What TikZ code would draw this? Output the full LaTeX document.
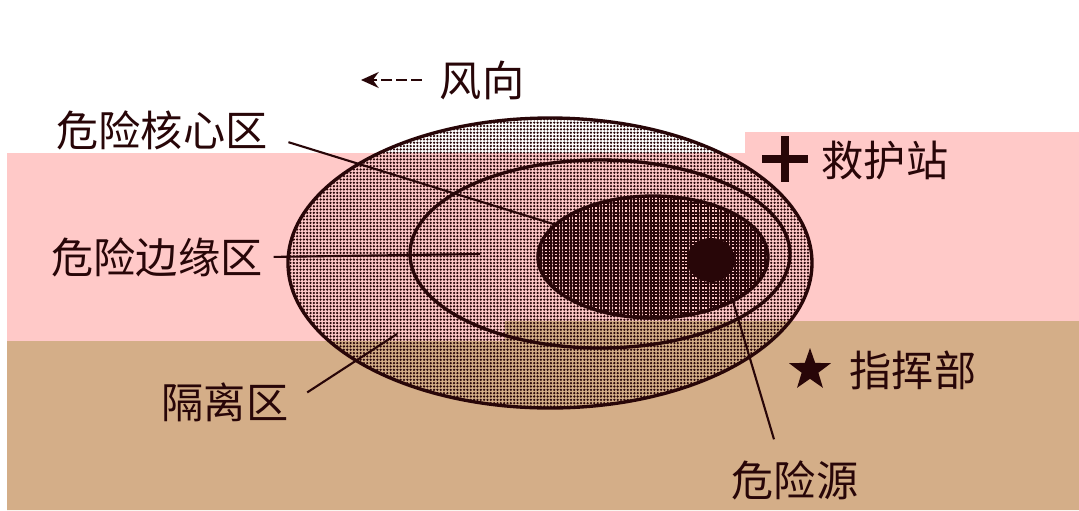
\documentclass[tikz,border=0pt]{standalone}
\usepackage{fontspec}
\newfontfamily\cjk{Noto Sans CJK SC}
\usetikzlibrary{patterns.meta,shapes.geometric,shapes.misc,arrows.meta}
\definecolor{ink}{RGB}{40,6,8}
\definecolor{bandpink}{RGB}{255,201,200}
\definecolor{bandtan}{RGB}{212,174,136}

\begin{document}
\begin{tikzpicture}[
    lbl/.style={font=\cjk\fontsize{12}{14}\selectfont,text=ink,inner sep=1pt},
    leader/.style={ink,line width=0.6pt},
    zone/.style={draw=ink,line width=0.95pt},
    dotsfill/.style={pattern={Dots[distance=0.95pt,radius=0.36pt]},pattern color=ink},
    corefill/.style={pattern={Hatch[distance=0.95pt,line width=0.55pt]},pattern color=ink}
  ]
        \useasboundingbox (0,0) rectangle (10.79,5.10);
        \fill[white] (0,0) rectangle (10.79,5.10);
        \fill[bandpink] (0.07,1.69) -- (0.07,3.57) -- (7.45,3.57) -- (7.45,3.78) -- (10.79,3.78) -- (10.79,1.89) -- (5.05,1.89) -- (5.05,1.69) -- cycle;
        \fill[bandtan] (0.07,0) -- (0.07,1.69) -- (5.05,1.69) -- (5.05,1.89) -- (10.79,1.89) -- (10.79,0) -- cycle;
        % zones
        \fill[dotsfill,even odd rule] (5.50,2.47) ellipse (2.62 and 1.45) (6.53,2.53) ellipse (1.15 and 0.61);
        \fill[corefill] (6.53,2.53) ellipse (1.15 and 0.61);
        \draw[zone] (5.50,2.47) ellipse (2.62 and 1.45);
        \draw[zone] (6.00,2.56) ellipse (1.90 and 0.94);
        \draw[zone] (6.53,2.53) ellipse (1.15 and 0.61);
        \fill[ink] (7.11,2.50) ellipse (0.24 and 0.22);
        % wind
        \node[lbl] at (4.82,4.30) (wind) {风向};
        \coordinate (windtip) at (3.61,4.30);
        \draw[leader,line width=0.8pt,-{Stealth[length=5pt,width=4.5pt]},dash pattern=on 3pt off 1.2pt,shorten <=4pt] (wind.west) -- (windtip);
        % labels
        \node[lbl] at (1.62,3.80) (corelbl) {危险核心区};
        \node[lbl] at (1.57,2.53) (edgelbl) {危险边缘区};
        \node[lbl] at (2.25,1.08) (isolbl) {隔离区};
        \node[lbl] at (7.95,0.30) (source) {危险源};
        \node[lbl] at (8.85,3.50) (station) {救护站};
        \node[lbl] at (9.13,1.40) (command) {指挥部};
        \node[draw=ink,cross out,rotate=45,line width=2.4pt,minimum size=0.24cm,inner sep=0] at (7.85,3.51) (cross) {};
        \node[star,star points=5,star point ratio=2.5,fill=ink,minimum size=0.44cm,inner sep=0] at (8.10,1.40) (hq) {};
        % leaders
        \coordinate (coreend) at (5.555,2.853);
        \coordinate (edgeend) at (4.80,2.56);
        \coordinate (isoend) at (3.97,1.76);
        \coordinate (srcend) at (7.32,2.12);
        \draw[leader,shorten <=5pt] ([yshift=-0.07cm]corelbl.east) -- (coreend);
        \draw[leader,shorten <=2pt] (edgelbl.east) -- (edgeend);
        \draw[leader,shorten <=5pt] (isolbl.east) -- (isoend);
        \draw[leader,shorten <=5pt] ([xshift=-0.16cm]source.north) -- (srcend);
\end{tikzpicture}
\end{document}
